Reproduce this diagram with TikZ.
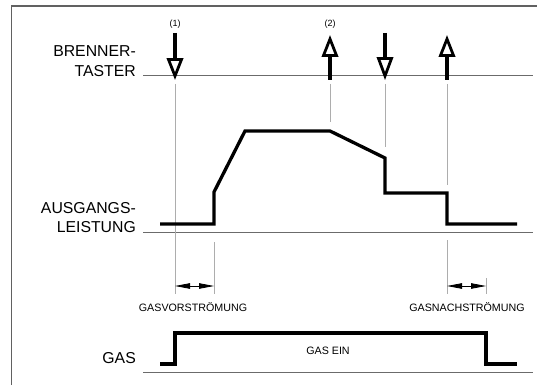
\documentclass[tikz,border=0pt]{standalone}
\usepackage{fontspec}
\setmainfont{Liberation Sans}
\usetikzlibrary{arrows.meta}
\begin{document}
\begin{tikzpicture}[x=1pt,y=-1pt,
 big/.style={font=\fontsize{15.8}{18}\selectfont, inner sep=0pt, anchor=base east},
 small/.style={font=\fontsize{10.7}{12}\selectfont, inner sep=0pt, anchor=base},
 tiny/.style={font=\fontsize{9}{10}\selectfont, inner sep=0pt, anchor=base},
 frame/.style={draw=black!62, line width=1.4pt},
 axis/.style={draw=black!58, line width=1pt},
 guide/.style={draw=black!32, line width=0.9pt},
 signal/.style={draw=black, line width=3.3pt, line join=miter},
 shaft/.style={draw=black, line width=3.4pt},
 head/.style={draw=black, line width=2.8pt, fill=white, line join=miter, miter limit=10},
 dim/.style={draw=black, line width=0.8pt, {Triangle[length=15pt,width=5.5pt]}-{Triangle[length=15pt,width=5.5pt]}}
]
\useasboundingbox (0,0) rectangle (537,385);
% frame
\draw[frame] (11.5,385) -- (11.5,6) -- (537,6);
% axes
\draw[axis] (143,76) -- (533,76);
\draw[axis] (143,232.5) -- (533,232.5);
\draw[axis] (143,372) -- (533,372);
% labels
\node[big] (bt1) at (136,57) {BRENNER-};
\node[big] (bt2) at (136,77) {TASTER};
\node[big] (al1) at (136,213) {AUSGANGS-};
\node[big] (al2) at (136,232) {LEISTUNG};
\node[big] (gl) at (136,363.5) {GAS};
\node[tiny] (n1) at (175,27) {(1)};
\node[tiny] (n2) at (330,27) {(2)};
\node[small] (gv) at (193,311.5) {GASVORSTRÖMUNG};
\node[small] (gn) at (467,311.5) {GASNACHSTRÖMUNG};
\node[small] (ge) at (328,354.5) {GAS EIN};
% guide lines
\draw[guide] (175,84) -- (175,294);
\draw[guide] (214,242) -- (214,294);
\draw[guide] (330,84) -- (330,122);
\draw[guide] (385,84) -- (385,147);
\draw[guide] (447,84) -- (447,185);
\draw[guide] (447,240) -- (447,294);
\draw[guide] (486,278) -- (486,294);
% dimension arrows
\coordinate (d1a) at (175,286); \coordinate (d1b) at (214,286);
\coordinate (d2a) at (447,286); \coordinate (d2b) at (486,286);
\draw[dim] (d1a) -- (d1b);
\draw[dim] (d2a) -- (d2b);
% brenner taster arrows
% (1) down
\draw[shaft] (175,33) -- (175,60);
\draw[head] (168.5,59.5) -- (181.5,59.5) -- (175,76) -- cycle;
% (2) up
\draw[shaft] (330,54) -- (330,80);
\draw[head] (323.5,55.5) -- (336.5,55.5) -- (330,39) -- cycle;
% down
\draw[shaft] (385,33) -- (385,60);
\draw[head] (378.5,58.5) -- (391.5,58.5) -- (385,76) -- cycle;
% up
\draw[shaft] (447,54) -- (447,80);
\draw[head] (440.5,55.5) -- (453.5,55.5) -- (447,39) -- cycle;
% output signal
\draw[signal] (160,224) -- (214,224) -- (214,192) -- (245,131) -- (330,131) -- (385,158) -- (385,193) -- (447,193) -- (447,224) -- (517,224);
% gas signal
\draw[signal] (160,364) -- (175,364) -- (175,333) -- (486,333) -- (486,364) -- (517,364);
\end{tikzpicture}
\end{document}
